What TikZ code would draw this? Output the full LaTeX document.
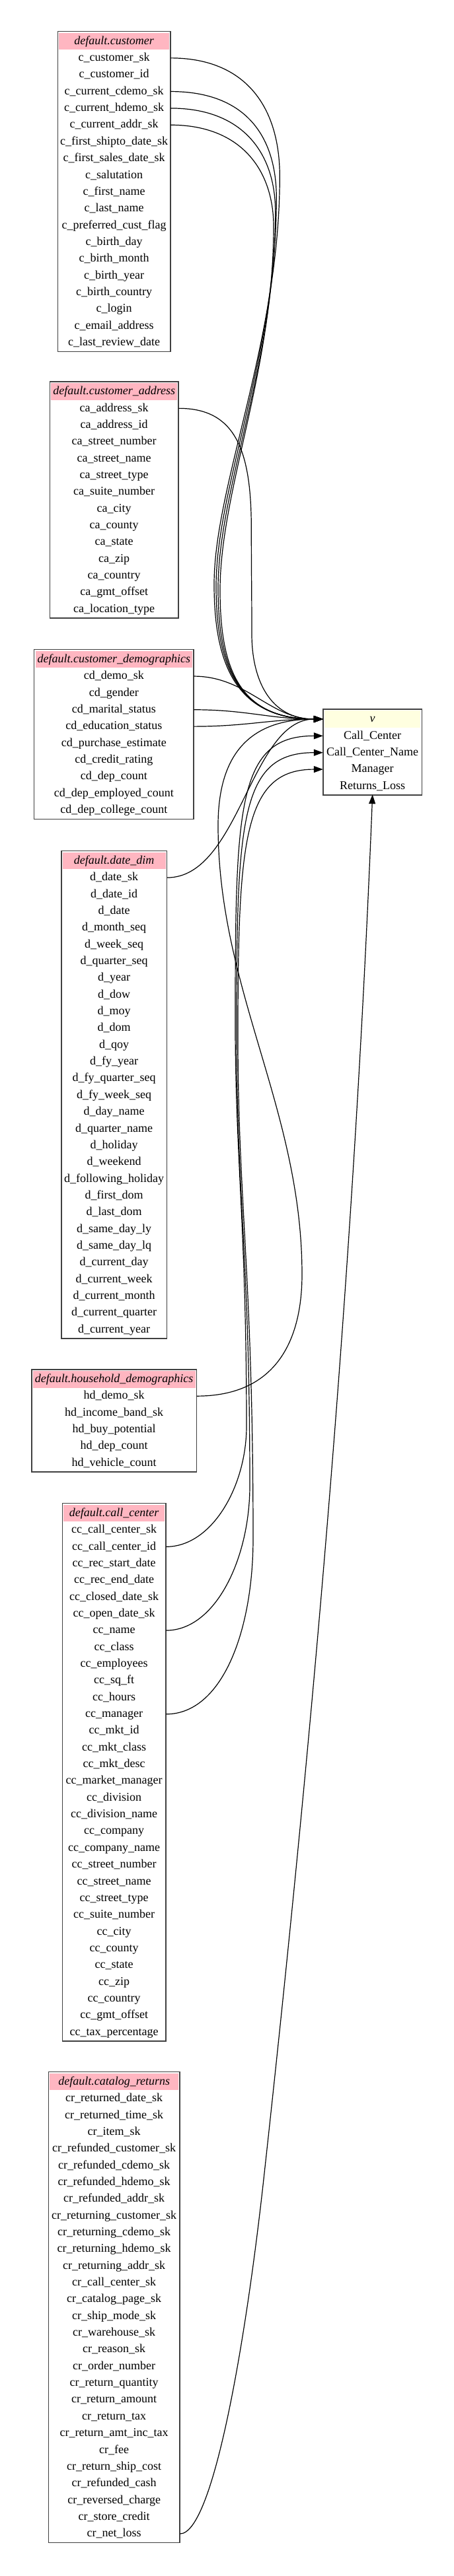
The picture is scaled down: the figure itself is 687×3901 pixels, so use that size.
\documentclass[tikz,border=0pt]{standalone}
\usepackage{fontspec}
\setmainfont{Liberation Serif}
\usetikzlibrary{arrows.meta}
\definecolor{hdrpink}{HTML}{FFB6C1}
\definecolor{hdryellow}{HTML}{FFFFE0}
\definecolor{tbline}{HTML}{404040}
\newcommand{\rowfont}{\fontsize{18}{21.6}\selectfont}
\tikzset{
  row/.style={inner sep=0pt, minimum height=25.35pt, text height=13.4pt, text depth=4pt, font=\rowfont},
  tborder/.style={draw=tbline, line width=1.5pt},
  fk/.style={draw=black, line width=1.2pt, -{Triangle[length=14pt,width=10pt]}},
}
% #1 name, #2 centre x, #3 top y, #4 width, #5 header fill, #6 title, #7 rows
\newcommand{\dbtable}[7]{%
  \fill[#5] ({#2-#4/2+2},{#3+2}) rectangle ({#2+#4/2-2},{#3+27.7});
  \node[row, minimum width=#4pt] (#1-h) at (#2,{#3+15}) {\itshape #6};
  \foreach \r [count=\i] in {#7} {
    \node[row, minimum width=#4pt] (#1-\i) at (#2,{#3+15+\i*25.35}) {\r};
    \xdef\nrows{\i}
  }
  \draw[tborder] ({#2-#4/2},#3) rectangle ({#2+#4/2},{#3+15+\nrows*25.35+13.5});
}
\begin{document}
\begin{tikzpicture}[x=1pt,y=-1pt]
\fill[white] (0,0) rectangle (687,3901);
\useasboundingbox (0,0) rectangle (687,3901);

\dbtable{cust}{172.7}{47.5}{170.5}{hdrpink}{default.customer}{c\_customer\_sk,c\_customer\_id,c\_current\_cdemo\_sk,c\_current\_hdemo\_sk,c\_current\_addr\_sk,c\_first\_shipto\_date\_sk,c\_first\_sales\_date\_sk,c\_salutation,c\_first\_name,c\_last\_name,c\_preferred\_cust\_flag,c\_birth\_day,c\_birth\_month,c\_birth\_year,c\_birth\_country,c\_login,c\_email\_address,c\_last\_review\_date}

\dbtable{ca}{172.7}{578}{194.9}{hdrpink}{default.customer\_address}{ca\_address\_sk,ca\_address\_id,ca\_street\_number,ca\_street\_name,ca\_street\_type,ca\_suite\_number,ca\_city,ca\_county,ca\_state,ca\_zip,ca\_country,ca\_gmt\_offset,ca\_location\_type}

\dbtable{cd}{172.4}{983.7}{241.4}{hdrpink}{default.customer\_demographics}{cd\_demo\_sk,cd\_gender,cd\_marital\_status,cd\_education\_status,cd\_purchase\_estimate,cd\_credit\_rating,cd\_dep\_count,cd\_dep\_employed\_count,cd\_dep\_college\_count}

\dbtable{dd}{172.7}{1288.7}{159.9}{hdrpink}{default.date\_dim}{d\_date\_sk,d\_date\_id,d\_date,d\_month\_seq,d\_week\_seq,d\_quarter\_seq,d\_year,d\_dow,d\_moy,d\_dom,d\_qoy,d\_fy\_year,d\_fy\_quarter\_seq,d\_fy\_week\_seq,d\_day\_name,d\_quarter\_name,d\_holiday,d\_weekend,d\_following\_holiday,d\_first\_dom,d\_last\_dom,d\_same\_day\_ly,d\_same\_day\_lq,d\_current\_day,d\_current\_week,d\_current\_month,d\_current\_quarter,d\_current\_year}

\dbtable{hd}{172.7}{2073.8}{249.7}{hdrpink}{default.household\_demographics}{hd\_demo\_sk,hd\_income\_band\_sk,hd\_buy\_potential,hd\_dep\_count,hd\_vehicle\_count}

\dbtable{cc}{172.7}{2276.6}{156.9}{hdrpink}{default.call\_center}{cc\_call\_center\_sk,cc\_call\_center\_id,cc\_rec\_start\_date,cc\_rec\_end\_date,cc\_closed\_date\_sk,cc\_open\_date\_sk,cc\_name,cc\_class,cc\_employees,cc\_sq\_ft,cc\_hours,cc\_manager,cc\_mkt\_id,cc\_mkt\_class,cc\_mkt\_desc,cc\_market\_manager,cc\_division,cc\_division\_name,cc\_company,cc\_company\_name,cc\_street\_number,cc\_street\_name,cc\_street\_type,cc\_suite\_number,cc\_city,cc\_county,cc\_state,cc\_zip,cc\_country,cc\_gmt\_offset,cc\_tax\_percentage}

\dbtable{cr}{172.7}{3137.6}{198.9}{hdrpink}{default.catalog\_returns}{cr\_returned\_date\_sk,cr\_returned\_time\_sk,cr\_item\_sk,cr\_refunded\_customer\_sk,cr\_refunded\_cdemo\_sk,cr\_refunded\_hdemo\_sk,cr\_refunded\_addr\_sk,cr\_returning\_customer\_sk,cr\_returning\_cdemo\_sk,cr\_returning\_hdemo\_sk,cr\_returning\_addr\_sk,cr\_call\_center\_sk,cr\_catalog\_page\_sk,cr\_ship\_mode\_sk,cr\_warehouse\_sk,cr\_reason\_sk,cr\_order\_number,cr\_return\_quantity,cr\_return\_amount,cr\_return\_tax,cr\_return\_amt\_inc\_tax,cr\_fee,cr\_return\_ship\_cost,cr\_refunded\_cash,cr\_reversed\_charge,cr\_store\_credit,cr\_net\_loss}

\dbtable{v}{563.7}{1074}{149.4}{hdryellow}{v}{Call\_Center,Call\_Center\_Name,Manager,Returns\_Loss}

% customer -> v
\draw[fk] (cust-1.east) .. controls (370,87.85) and (423.3,160) .. (423.3,267)
  .. controls (423.3,517) and (324,735) .. (324,885)
  .. controls (324,1010) and (360,1089) .. (v-h.west);
\draw[fk] (cust-3.east) .. controls (375,138.55) and (418.3,210) .. (418.3,300)
  .. controls (418.3,540) and (327,738) .. (327,888)
  .. controls (327,1010) and (361,1089) .. (v-h.west);
\draw[fk] (cust-4.east) .. controls (370,163.9) and (416.7,235) .. (416.7,320)
  .. controls (416.7,550) and (330,741) .. (330,891)
  .. controls (330,1012) and (362,1089) .. (v-h.west);
\draw[fk] (cust-5.east) .. controls (365,189.25) and (414,258) .. (414,343)
  .. controls (414,560) and (333,744) .. (333,894)
  .. controls (333,1014) and (363,1089) .. (v-h.west);
% customer_address -> v
\draw[fk] (ca-1.east) .. controls (355.3,618.35) and (380.3,680) .. (380.3,800)
  .. controls (380.3,860) and (381,900) .. (381,960)
  .. controls (381,1030) and (409,1089) .. (v-h.west);
% customer_demographics -> v
\draw[fk] (cd-1.east) .. controls (373.1,1024.05) and (409,1089) .. (v-h.west);
\draw[fk] (cd-3.east) .. controls (373.1,1074.75) and (409,1089) .. (v-h.west);
\draw[fk] (cd-4.east) .. controls (373.1,1100.1) and (409,1089) .. (v-h.west);
% date_dim -> v
\draw[fk] (dd-1.east) .. controls (362.8,1329.05) and (379,1089) .. (v-h.west);
% household_demographics -> v
\draw[fk] (hd-1.east) .. controls (437.5,2114.15) and (457,2000) .. (457,1930)
  .. controls (457,1680) and (330,1500) .. (330,1250)
  .. controls (330,1140) and (380,1089) .. (v-h.west);
% call_center -> v
\draw[fk] (cc-2.east) .. controls (321.1,2342.3) and (373,2250) .. (373,2160)
  .. controls (373,1860) and (356,1750) .. (356,1550)
  .. controls (356,1220) and (359,1114.35) .. (v-1.west);
\draw[fk] (cc-7.east) .. controls (326.1,2469.05) and (378,2360) .. (378,2250)
  .. controls (378,1900) and (358,1810) .. (358,1560)
  .. controls (358,1240) and (364,1139.7) .. (v-2.west);
\draw[fk] (cc-12.east) .. controls (336.1,2595.8) and (383,2470) .. (383,2330)
  .. controls (383,1930) and (360,1820) .. (360,1570)
  .. controls (360,1270) and (369,1165.05) .. (v-3.west);
% catalog_returns -> v
\draw[fk] (cr-27.east) .. controls (322.1,3837.05) and (371.5,3550) .. (399,3300)
  .. controls (476,2600) and (535.7,1903.9) .. (v-4.south);
\end{tikzpicture}
\end{document}
